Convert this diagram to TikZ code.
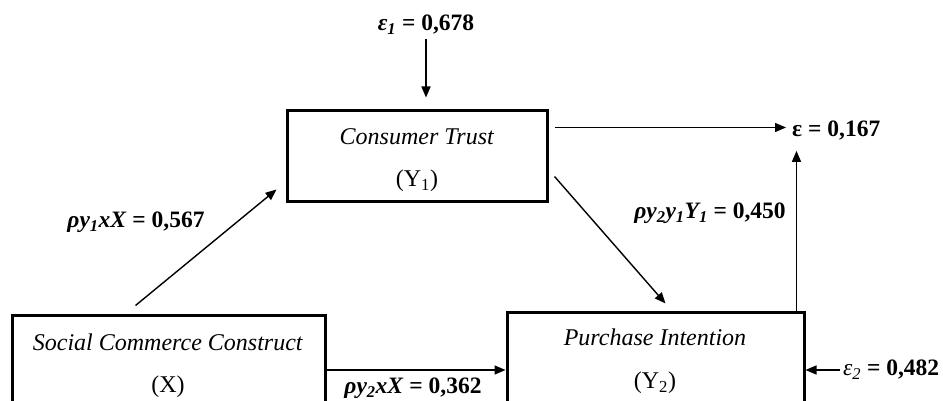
\documentclass[tikz,border=0pt]{standalone}
\usepackage{fontspec}
\setmainfont{Liberation Serif}
\usetikzlibrary{arrows.meta,calc}

\tikzset{
  box/.style={draw, line width=3pt, rectangle, inner sep=0pt},
  boxtext/.style={inner sep=0pt, font=\fontsize{24}{28}\selectfont},
  lbl/.style={inner sep=0pt, font=\fontsize{23.5}{27}\selectfont},
  arr/.style={line width=1.4pt, -{Triangle[length=11pt,width=9pt]}},
}

\begin{document}
\begin{tikzpicture}[x=1pt,y=-1pt]
  \useasboundingbox (0,0) rectangle (943,401);
  \clip (0,0) rectangle (943,401);
  \fill[white] (0,0) rectangle (943,401);

  % variable boxes
  \node[box, minimum width=260pt, minimum height=91pt] (ct) at (417,156.5) {};
  \node[boxtext] at (417,137) {\textit{Consumer Trust}};
  \node[boxtext] at (417,181) {(Y\textsubscript{1})};

  \node[box, minimum width=313pt, minimum height=110pt] (scc) at (168.5,370) {};
  \node[boxtext] at (168,342) {\textit{Social Commerce Construct}};
  \node[boxtext] at (168,387) {(X)};

  \node[box, minimum width=297pt, minimum height=116pt] (pi) at (655.5,370) {};
  \node[boxtext] at (655,337) {\textit{Purchase Intention}};
  \node[boxtext] at (655,383) {(Y\textsubscript{2})};

  % error terms and coefficients
  \node[lbl] (e1) at (426,25) {\textbf{\textit{ε}\textsubscript{\textit{1}} = 0,678}};
  \node[lbl, anchor=west] (eps) at (792,131) {\textbf{ε = 0,167}};
  \node[lbl, anchor=west] (e2) at (843,370) {\textit{ε\textsubscript{2}} \textbf{= 0,482}};
  \node[lbl] (l1) at (136,222) {\textbf{\textit{ρy\textsubscript{1}xX} = 0,567}};
  \node[lbl] (l2) at (710,213) {\textbf{\textit{ρy\textsubscript{2}y\textsubscript{1}Y\textsubscript{1}} = 0,450}};
  \node[lbl] (l3) at (413,388) {\textbf{\textit{ρy\textsubscript{2}xX} = 0,362}};

  % paths
  \draw[arr, shorten <=4pt, shorten >=12pt] (e1.south) -- (e1.south |- ct.north);

  \coordinate (ctR) at ($(ct.north east)+(6,18)$);
  \draw[arr, shorten >=6pt] (ctR) -- (ctR -| eps.west);

  \coordinate (piT) at ($(pi.north east)+(-9,0)$);
  \draw[arr, shorten >=10pt] (piT) -- (piT |- eps.south);

  \draw[arr] ($(ct.south east)+(6,-27)$) -- ($(pi.north)+(10,-7)$);

  \draw[arr] ($(scc.north)+(-33,-8)$) -- ($(ct.south west)+(-9,-14)$);

  \draw[arr] (scc.east) -- (scc.east -| pi.west);

  \draw[arr, shorten <=3pt] (e2.west) -- (e2.west -| pi.east);
\end{tikzpicture}
\end{document}
